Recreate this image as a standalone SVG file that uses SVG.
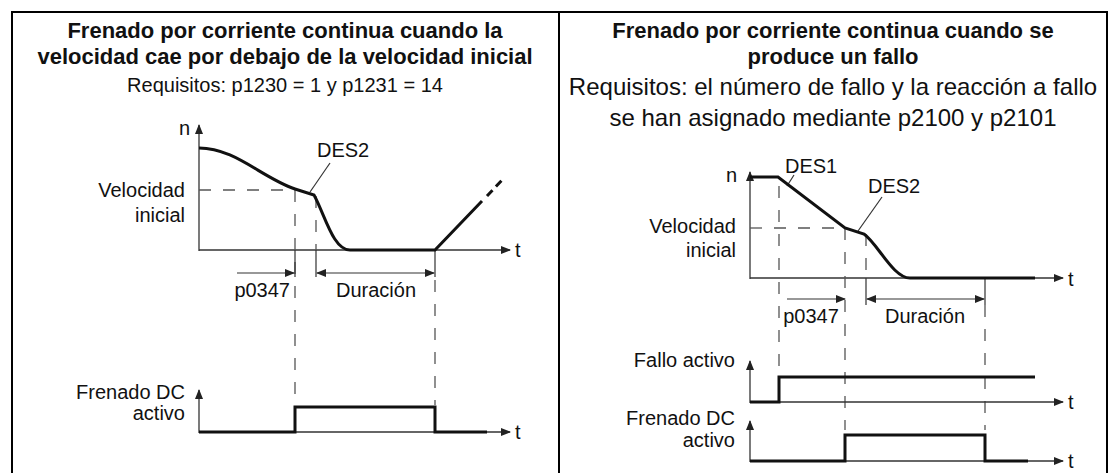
<svg xmlns="http://www.w3.org/2000/svg" width="1114" height="473" viewBox="0 0 1114 473">
<style>
text{font-family:"Liberation Sans",Arial,sans-serif;fill:#111}
.ti{font-size:22px;font-weight:bold;text-anchor:middle}
.sub{font-size:20px;text-anchor:middle}
.subr{font-size:24px;text-anchor:middle}
.lb{font-size:20px}
.r{text-anchor:end}
.m{text-anchor:middle}
.ax{stroke:#333;stroke-width:1.3;fill:none}
.th{stroke:#111;stroke-width:3;fill:none;stroke-linejoin:miter}
.da{stroke:#555;stroke-width:1.3;fill:none;stroke-dasharray:12,12}
.ln{stroke:#333;stroke-width:1.2;fill:none}
.frame{stroke:#000;stroke-width:2;fill:none}
</style>
<defs>
<marker id="ah" markerUnits="userSpaceOnUse" markerWidth="10" markerHeight="8" refX="9" refY="4" orient="auto">
<path d="M0,0 L10,4 L0,8 Z" fill="#222"/>
</marker>
<marker id="ahs" markerUnits="userSpaceOnUse" markerWidth="10" markerHeight="8" refX="9" refY="4" orient="auto-start-reverse">
<path d="M0,0 L10,4 L0,8 Z" fill="#222"/>
</marker>
</defs>
<rect width="1114" height="473" fill="#fff"/>
<g id="frame">
<path class="frame" d="M12,474 V12 H1107 V474 M559,12 V474"/>
</g>
<g id="left-title">
<text class="ti" x="285" y="38">Frenado por corriente continua cuando la</text>
<text class="ti" x="285" y="64">velocidad cae por debajo de la velocidad inicial</text>
<text class="sub" x="285" y="92">Requisitos: p1230 = 1 y p1231 = 14</text>
</g>
<g id="right-title">
<text class="ti" x="833" y="38">Frenado por corriente continua cuando se</text>
<text class="ti" x="833" y="64">produce un fallo</text>
<text class="subr" x="833" y="95">Requisitos: el número de fallo y la reacción a fallo</text>
<text class="subr" x="833" y="126">se han asignado mediante p2100 y p2101</text>
</g>
<g id="left-speed">
<text class="lb r" x="190" y="135">n</text>
<text class="lb r" x="185" y="197">Velocidad</text>
<text class="lb r" x="185" y="222">inicial</text>
<text class="lb" x="515" y="257">t</text>
<text class="lb" x="317" y="157">DES2</text>
<text class="lb r" x="290" y="297">p0347</text>
<text class="lb m" x="376" y="297">Duración</text>
</g>
<g id="left-dc">
<text class="lb r" x="185" y="399">Frenado DC</text>
<text class="lb r" x="185" y="420">activo</text>
<text class="lb" x="515" y="439">t</text>
</g>
<g id="right-speed">
<text class="lb r" x="737" y="182">n</text>
<text class="lb r" x="736" y="233">Velocidad</text>
<text class="lb r" x="736" y="257">inicial</text>
<text class="lb" x="1068" y="286">t</text>
<text class="lb" x="785" y="173">DES1</text>
<text class="lb" x="868" y="193">DES2</text>
<text class="lb m" x="811" y="323">p0347</text>
<text class="lb m" x="925" y="323">Duración</text>
</g>
<g id="right-fault">
<text class="lb r" x="735" y="367">Fallo activo</text>
<text class="lb" x="1068" y="409">t</text>
</g>
<g id="right-dc">
<text class="lb r" x="735" y="425">Frenado DC</text>
<text class="lb r" x="735" y="447">activo</text>
<text class="lb" x="1068" y="468">t</text>
</g>
<g id="connectors">
<path class="ax" d="M199,251 V125" marker-end="url(#ah)"/>
<path class="ax" d="M199,250 H510" marker-end="url(#ah)"/>
<path class="da" d="M199,190 H295"/>
<path class="da" d="M295,190 V405"/>
<path class="da" d="M316,196 V250"/>
<path class="da" d="M435,280 V405"/>
<path class="ln" d="M295,250 V277 M316,250 V277 M435,250 V277"/>
<path class="ln" d="M237,273 H294" marker-end="url(#ah)"/>
<path class="ln" d="M317,273 H434" marker-start="url(#ahs)" marker-end="url(#ah)"/>
<path class="ln" d="M330,163 L310,192"/>
<path class="th" d="M199,148 C235,148 262,178 295,189 L314,195 C325,215 333,250 350,250 H435 L482,201"/>
<path class="th" d="M487,196 L503,179" stroke-dasharray="8,5"/>
<path class="ax" d="M199,433 V390" marker-end="url(#ah)"/>
<path class="ax" d="M199,432 H510" marker-end="url(#ah)"/>
<path class="th" d="M199,432 H295 V407 H435 V432 H487"/>
<path class="ax" d="M750,279 V172" marker-end="url(#ah)"/>
<path class="ax" d="M750,278 H1063" marker-end="url(#ah)"/>
<path class="da" d="M750,228 H845"/>
<path class="da" d="M779,186 V372"/>
<path class="da" d="M845,228 V430"/>
<path class="da" d="M866,234 V278"/>
<path class="da" d="M985,305 V430"/>
<path class="ln" d="M866,278 V305 M985,278 V305"/>
<path class="ln" d="M787,299 H845" marker-end="url(#ah)"/>
<path class="ln" d="M867,299 H984" marker-start="url(#ahs)" marker-end="url(#ah)"/>
<path class="ln" d="M794,175 L787,186"/>
<path class="ln" d="M882,197 L858,231"/>
<path class="th" d="M750,177 H778 L845,228 L864,234 C878,244 893,278 910,278 H1035"/>
<path class="ax" d="M750,403 V361" marker-end="url(#ah)"/>
<path class="ax" d="M750,402 H1063" marker-end="url(#ah)"/>
<path class="th" d="M750,402 H779 V377 H1035"/>
<path class="ax" d="M750,462 V421" marker-end="url(#ah)"/>
<path class="ax" d="M750,461 H1063" marker-end="url(#ah)"/>
<path class="th" d="M750,461 H845 V435 H985 V461 H1028"/>
</g>
</svg>
